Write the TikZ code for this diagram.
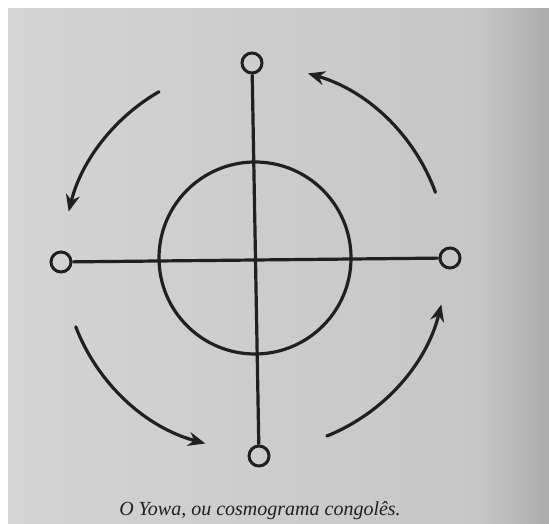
\documentclass[tikz,border=0pt]{standalone}
\usepackage{fontspec}
\setmainfont{Liberation Serif}
\usetikzlibrary{arrows.meta}
\definecolor{pageL}{RGB}{212,212,212}
\definecolor{pageM}{RGB}{198,198,198}
\definecolor{pageR}{RGB}{172,172,172}
\definecolor{ink}{RGB}{32,32,32}
\begin{document}
\begin{tikzpicture}[x=1pt, y=1pt,
  pole/.style={circle, draw=ink, line width=3pt, minimum size=20pt, inner sep=0pt},
  ring/.style={circle, draw=ink, line width=3.2pt, minimum size=192pt, inner sep=0pt},
  axis/.style={draw=ink, line width=3.2pt},
  flow/.style={draw=ink, line width=3.2pt, line cap=round, -{Stealth[length=17pt,width=14pt]}}]
  % page of the book
  \useasboundingbox (0,0) rectangle (549,524);
  \fill[white] (0,0) rectangle (549,524);
  \shade[left color=pageL, right color=pageM] (8,0) rectangle (480,515);
  \shade[left color=pageM, right color=pageR] (480,0) rectangle (549,515);

  % cross and ring
  \coordinate (c) at (255,266);
  \node[ring] (sun) at (c) {};
  \node[pole] (top) at (252,461) {};
  \node[pole] (bottom) at (259,68) {};
  \node[pole] (left) at (61,262) {};
  \node[pole] (right) at (450,266) {};
  \draw[axis] (top) -- (bottom);
  \draw[axis] (left) -- (right);

  % turning of the sun
  \foreach \a/\b in {20/74, 120/166, 201/255, 292/346} {
    \draw[flow] ([shift={(\a:192)}]c) arc[start angle=\a, end angle=\b, radius=192];
  }

  \node[font=\fontsize{20}{24}\selectfont\itshape, text=ink, anchor=base] (caption) at (260,8) {O Yowa, ou cosmograma congolês.};
\end{tikzpicture}
\end{document}
